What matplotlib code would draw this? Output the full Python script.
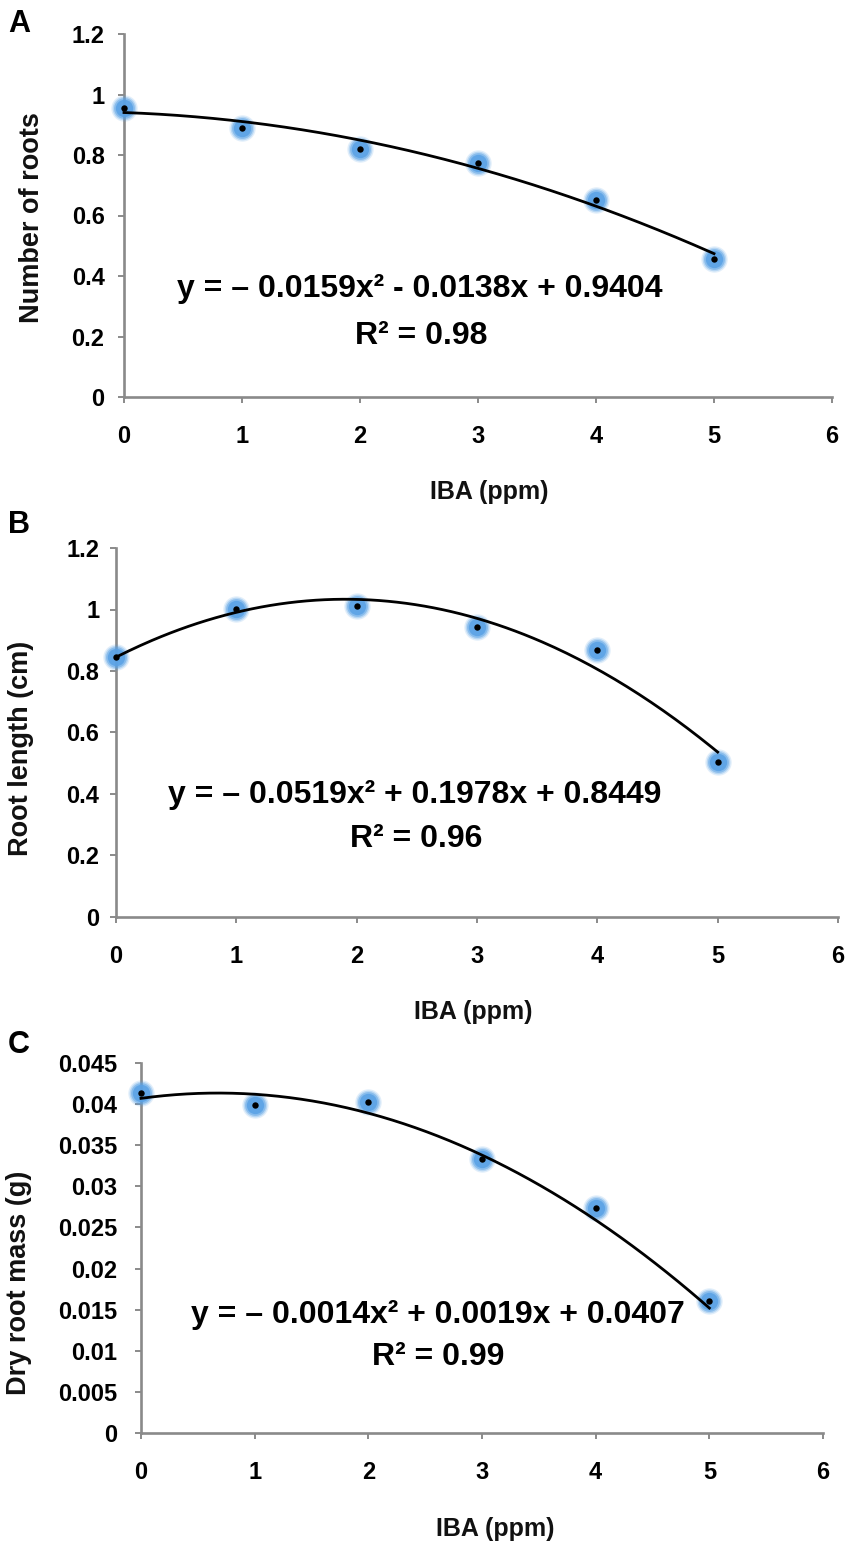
import matplotlib
matplotlib.use("Agg")
import matplotlib.pyplot as plt
import numpy as np

plt.rcParams['font.family'] = ['Liberation Sans', 'DejaVu Sans']
plt.rcParams['font.weight'] = 'bold'

# ---------------- data ----------------
iba = [0, 1, 2, 3, 4, 5]

roots_number = [0.955, 0.89, 0.82, 0.775, 0.65, 0.455]
root_length = [0.846, 1.002, 1.010, 0.943, 0.869, 0.504]
dry_mass = [0.0413, 0.0399, 0.0402, 0.0333, 0.0274, 0.0160]

# quadratic trend-line coefficients (a, b, c) as printed on the chart
coef_A = [-0.0159, -0.0138, 0.9404]
coef_B = [-0.0519, 0.1978, 0.8449]
coef_C = [-0.0014, 0.0019, 0.0407]

eq_A = "y = – 0.0159x² - 0.0138x + 0.9404"
eq_B = "y = – 0.0519x² + 0.1978x + 0.8449"
eq_C = "y = – 0.0014x² + 0.0019x + 0.0407"
r2_A = "R² = 0.98"
r2_B = "R² = 0.96"
r2_C = "R² = 0.99"

yticks_AB = [0, 0.2, 0.4, 0.6, 0.8, 1.0, 1.2]
yticklabels_AB = ['0', '0.2', '0.4', '0.6', '0.8', '1', '1.2']
yticks_C = [0, 0.005, 0.01, 0.015, 0.02, 0.025, 0.03, 0.035, 0.04, 0.045]
yticklabels_C = ['0', '0.005', '0.01', '0.015', '0.02', '0.025', '0.03',
                 '0.035', '0.04', '0.045']
xticks = [0, 1, 2, 3, 4, 5, 6]

ylabels = ["Number of roots", "Root length (cm)", "Dry root mass (g)"]
xlabel = "IBA (ppm)"
panel_letters = ["A", "B", "C"]

# ---------------- figure ----------------
W, H = 851, 1550
fig = plt.figure(figsize=(W / 100, H / 100), dpi=100)


def fx(x):
    return x / W


def fy(y):
    return 1 - y / H


def add_ax(left, right, top, bottom):
    return fig.add_axes([fx(left), fy(bottom), (right - left) / W, (bottom - top) / H])


axis_gray = '#8a8a8a'
blue = '#5aa2e6'

panels = [
    dict(box=(124, 832, 34, 397), y=roots_number, coef=coef_A, ylim=1.2,
         yt=yticks_AB, ytl=yticklabels_AB, eq=eq_A, r2=r2_A,
         eqpos=(420, 297), r2pos=(421, 344), ylab=(32, 218), xlab=(489, 492),
         letter=(8, 32), ypad=10),
    dict(box=(116, 838, 548, 917), y=root_length, coef=coef_B, ylim=1.2,
         yt=yticks_AB, ytl=yticklabels_AB, eq=eq_B, r2=r2_B,
         eqpos=(415, 803), r2pos=(416, 847), ylab=(21, 748), xlab=(473, 1012),
         letter=(8, 533), ypad=8),
    dict(box=(141, 823, 1063, 1433), y=dry_mass, coef=coef_C, ylim=0.045,
         yt=yticks_C, ytl=yticklabels_C, eq=eq_C, r2=r2_C,
         eqpos=(438, 1323), r2pos=(438, 1365), ylab=(19, 1283), xlab=(495, 1529),
         letter=(8, 1053), ypad=13),
]

xs = np.linspace(0, 5, 200)

for i, p in enumerate(panels):
    ax = add_ax(*p['box'])
    ax.set_xlim(0, 6)
    ax.set_ylim(0, p['ylim'])
    for s in ['top', 'right']:
        ax.spines[s].set_visible(False)
    for s in ['left', 'bottom']:
        ax.spines[s].set_color(axis_gray)
        ax.spines[s].set_linewidth(1.9)
    ax.set_xticks(xticks)
    ax.set_xticklabels([str(t) for t in xticks])
    ax.set_yticks(p['yt'])
    ax.set_yticklabels(p['ytl'])
    ax.tick_params(axis='x', direction='out', length=4, width=1.4, color=axis_gray,
                   pad=16, labelsize=17)
    ax.tick_params(axis='y', direction='out', length=4, width=1.4, color=axis_gray,
                   pad=p['ypad'], labelsize=17)
    for lab in ax.get_xticklabels() + ax.get_yticklabels():
        lab.set_fontweight('bold')

    # markers (soft blue glow + small black centre)
    for ms, al in [(19, 0.18), (17, 0.3), (15, 0.5), (12.5, 0.85)]:
        ax.plot(iba, p['y'], 'o', ms=ms, color=blue, alpha=al, mec='none',
                clip_on=False, zorder=3)
    a, b, c = p['coef']
    ax.plot(xs, a * xs ** 2 + b * xs + c, color='black', lw=2.0,
            clip_on=False, zorder=4)
    ax.plot(iba, p['y'], 'o', ms=4.6, color='black', mec='none',
            clip_on=False, zorder=5)

    # equation and R²
    fig.text(fx(p['eqpos'][0]), fy(p['eqpos'][1]), p['eq'], ha='center',
             va='baseline', fontsize=23, fontweight='bold')
    fig.text(fx(p['r2pos'][0]), fy(p['r2pos'][1]), p['r2'], ha='center',
             va='baseline', fontsize=23, fontweight='bold')

    # axis labels
    ax.set_ylabel(ylabels[i], fontsize=19.5, fontweight='bold', color='#111111')
    ax.yaxis.set_label_coords((p['ylab'][0] - p['box'][0]) / (p['box'][1] - p['box'][0]),
                              (p['box'][3] - p['ylab'][1]) / (p['box'][3] - p['box'][2]))
    ax.yaxis.label.set_va('center')
    ax.set_xlabel(xlabel, fontsize=18, fontweight='bold', color='#111111')
    ax.xaxis.set_label_coords((p['xlab'][0] - p['box'][0]) / (p['box'][1] - p['box'][0]),
                              (p['box'][3] - p['xlab'][1]) / (p['box'][3] - p['box'][2]))
    ax.xaxis.label.set_va('center')

    fig.text(fx(p['letter'][0]), fy(p['letter'][1]), panel_letters[i],
             ha='left', va='baseline', fontsize=22, fontweight='bold')

fig.savefig("out.png", dpi=100)
